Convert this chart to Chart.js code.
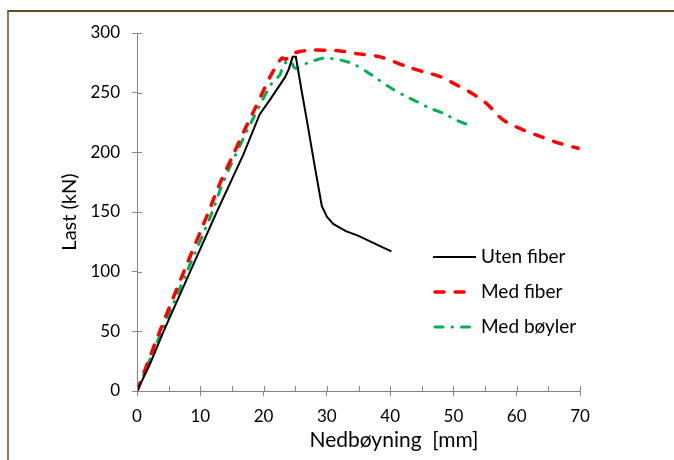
<!DOCTYPE html>
<html>
<head>
<meta charset="utf-8">
<script src="https://cdn.jsdelivr.net/npm/chart.js@4/dist/chart.umd.min.js"></script>
<style>
  body { margin: 0; background: #fff; }
  #wrap { position: relative; width: 674px; height: 460px; overflow: hidden; }
  #frame {
    position: absolute; left: 7px; top: 10px; width: 700px; height: 500px;
    border-top: 2px solid #5e4c1f; border-left: 2px solid #8a7c5a;
    pointer-events: none;
  }
</style>
</head>
<body>
<div id="wrap">
  <canvas id="chart" width="674" height="460"></canvas>
  <div id="frame"></div>
</div>
<script>
// Uten fiber
const utenX = [0, 2, 4.2, 8.4, 12.6, 16.8, 19.4, 21, 23.4, 24, 24.6, 25.1, 26, 27, 28, 29.2, 30, 31, 33, 35, 37, 39, 40.2];
const utenY = [0, 22, 50, 100, 150, 198, 232, 244, 263, 270, 280, 280, 252, 222, 191, 155, 146, 140, 134, 130, 125, 120, 117];

// Med fiber
const medX = [0, 3.6, 7.4, 11.3, 13.1, 15.2, 17.1, 18.4, 20, 21.3, 22.9, 23.5, 24.4, 25.7, 27.9, 30, 32.1, 35, 38.4, 42.6, 45.2, 47.9, 50.5, 52.9, 55.2, 57.9, 61, 63.9, 66.8, 69.7];
const medY = [0, 50, 100, 150, 174, 198, 220, 234, 252, 266, 279, 278, 282, 284.5, 285.8, 285.5, 285, 282.5, 280, 272, 267.6, 263.5, 256.5, 249.5, 241, 227, 218.8, 213, 207.5, 203.4];

// Med bøyler
const boylerX = [0, 3.9, 7.9, 11.9, 13.1, 14.7, 18.1, 21.3, 22.6, 23.1, 24.2, 25.0, 26.8, 29.4, 32.1, 34.2, 36.3, 38.1, 40.2, 42.1, 44.2, 46.3, 48.4, 50.5, 52.3];
const boylerY = [0, 50, 100, 150, 168, 188, 225.7, 258, 265, 273, 277, 270.5, 274.6, 278.8, 277.4, 274, 267.6, 261, 253.7, 248, 242.5, 237, 232.7, 227, 223];

const labels = ['Uten fiber', 'Med fiber', 'Med bøyler'];
const xTicks = [0, 10, 20, 30, 40, 50, 60, 70];
const yTicks = [0, 50, 100, 150, 200, 250, 300];
const xTitle = 'Nedbøyning  [mm]';

const FONT = 'Lato, "Open Sans", sans-serif';
const AXIS = '#868686';

function toPoints(xs, ys) {
    return xs.map((x, i) => ({ x: x, y: ys[i] }));
}

// inner half of the crossing ticks, minor x ticks, x title and legend
const extrasPlugin = {
    id: 'extras',
    afterDraw(chart) {
        const ctx = chart.ctx;
        const xs = chart.scales.x;
        const ys = chart.scales.y;
        const area = chart.chartArea;
        ctx.save();
        ctx.strokeStyle = AXIS;
        ctx.lineWidth = 1;
        ctx.setLineDash([]);
        ctx.beginPath();
        yTicks.forEach(v => {
            const py = Math.round(ys.getPixelForValue(v)) + 0.5;
            ctx.moveTo(area.left, py);
            ctx.lineTo(area.left + 5, py);
        });
        xTicks.forEach(v => {
            const px = Math.round(xs.getPixelForValue(v)) + 0.5;
            ctx.moveTo(px, area.bottom);
            ctx.lineTo(px, area.bottom - 5);
            if (v < 70) {
                const mx = Math.round(xs.getPixelForValue(v + 5)) + 0.5;
                ctx.moveTo(mx, area.bottom);
                ctx.lineTo(mx, area.bottom - 5);
            }
        });
        ctx.stroke();

        // x axis title, sits a bit right of centre in the original
        ctx.fillStyle = '#000';
        ctx.font = '21px ' + FONT;
        ctx.textAlign = 'center';
        ctx.textBaseline = 'middle';
        ctx.fillText(xTitle, 394, 440);

        // legend
        const lx = 433, ly = 257, gap = 35;
        chart.data.datasets.forEach((ds, i) => {
            const y = ly + i * gap;
            ctx.strokeStyle = ds.borderColor;
            ctx.lineWidth = ds.borderWidth;
            ctx.lineCap = ds.borderCapStyle || 'butt';
            ctx.setLineDash(ds.borderDash || []);
            ctx.beginPath();
            ctx.moveTo(lx + (i === 0 ? 0 : 2), y);
            ctx.lineTo(i === 1 ? 468 : 476, y);
            ctx.stroke();
            ctx.setLineDash([]);
            ctx.fillStyle = '#000';
            ctx.font = '19px ' + FONT;
            ctx.textBaseline = 'middle';
            ctx.textAlign = 'left';
            ctx.fillText(ds.label, 481, y);
        });
        ctx.restore();
    }
};

new Chart(document.getElementById('chart'), {
    type: 'line',
    data: {
        datasets: [
            {
                label: labels[0],
                data: toPoints(utenX, utenY),
                borderColor: '#000000',
                borderWidth: 2,
                tension: 0
            },
            {
                label: labels[1],
                data: toPoints(medX, medY),
                borderColor: '#ff0000',
                borderWidth: 3.5,
                borderDash: [9, 11],
                borderCapStyle: 'round',
                tension: 0.3
            },
            {
                label: labels[2],
                data: toPoints(boylerX, boylerY),
                borderColor: '#00b050',
                borderWidth: 3,
                borderDash: [8, 9, 0.5, 9],
                borderCapStyle: 'round',
                tension: 0.3
            }
        ]
    },
    options: {
        responsive: false,
        animation: false,
        elements: { point: { radius: 0 } },
        layout: { padding: { left: 54, top: 33, right: 94, bottom: 4 } },
        plugins: {
            legend: { display: false },
            tooltip: { enabled: false }
        },
        scales: {
            x: {
                type: 'linear',
                min: 0,
                max: 70,
                afterFit(scale) { scale.height = 65; },
                afterBuildTicks(scale) { scale.ticks = xTicks.map(v => ({ value: v })); },
                border: { color: AXIS, width: 1 },
                grid: { drawOnChartArea: false, color: AXIS, tickLength: 5 },
                ticks: { color: '#000', font: { family: FONT, size: 17 }, padding: 10 },
                title: { display: false }
            },
            y: {
                type: 'linear',
                min: 0,
                max: 300,
                afterFit(scale) { scale.width = 83; },
                afterBuildTicks(scale) { scale.ticks = yTicks.map(v => ({ value: v })); },
                border: { color: AXIS, width: 1 },
                grid: { drawOnChartArea: false, color: AXIS, tickLength: 5 },
                ticks: { color: '#000', font: { family: FONT, size: 17 }, padding: 12 },
                title: {
                    display: true,
                    text: 'Last (kN)',
                    color: '#000',
                    font: { family: FONT, size: 20 },
                    padding: { top: 4, bottom: 0 }
                }
            }
        }
    },
    plugins: [extrasPlugin]
});
</script>
</body>
</html>
